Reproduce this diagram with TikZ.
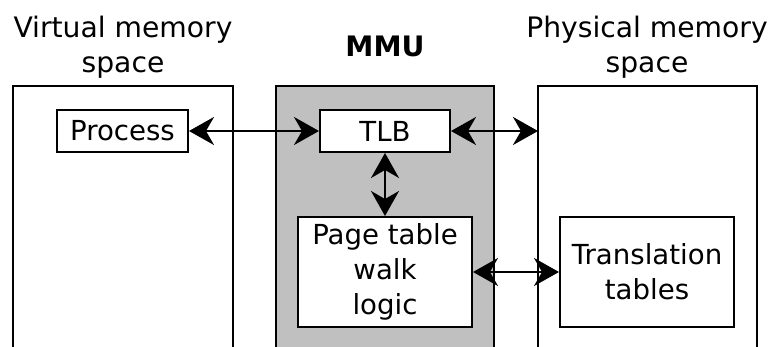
\documentclass[tikz,border=0pt]{standalone}
\usepackage{fontspec}
\setmainfont{DejaVu Sans}
\usetikzlibrary{arrows.meta}
\begin{document}
\begin{tikzpicture}[x=1pt,y=-1pt,
  lbl/.style={font=\fontsize{27.6}{35}\selectfont, align=center, inner sep=0pt},
  ttl/.style={font=\fontsize{28.2}{35}\selectfont, align=center, inner sep=0pt},
  box/.style={draw=black, line width=2pt, fill=white, lbl},
  conn/.style={line width=2pt, {Stealth[length=25pt,width=28pt,inset=8pt]}-{Stealth[length=25pt,width=28pt,inset=8pt]}},
  region/.style={line width=2pt}]
\useasboundingbox (0,0) rectangle (771,347);
\fill[white] (0,0) rectangle (771,347);
% regions
\fill[fill={rgb,255:red,192;green,192;blue,192}] (276,86) rectangle (494,350);
\draw[region] (13,350) -- (13,86) -- (233,86) -- (233,350);
\draw[region] (276,350) -- (276,86) -- (494,86) -- (494,350);
\draw[region] (538,350) -- (538,86) -- (757,86) -- (757,350);
\coordinate (physedge) at (538,131);
% headings
\node[ttl] (vtitle) at (123,47) {Virtual memory\\space};
\node[ttl, font=\fontsize{28.2}{35}\selectfont\bfseries] (mtitle) at (385,46) {MMU};
\node[ttl] (ptitle) at (647,47) {Physical memory\\space};
% boxes
\node[box, minimum width=131pt, minimum height=42pt] (proc) at (122.5,131) {Process};
\node[box, minimum width=130pt, minimum height=42pt] (tlb) at (385,131) {TLB};
\node[box, minimum width=174pt, minimum height=110pt] (ptw) at (385,272) {Page table\\walk\\logic};
\node[box, minimum width=174pt, minimum height=110pt] (tt) at (647,272) {Translation\\tables};
% connectors
\draw[conn] (proc) -- (tlb);
\draw[conn] (tlb) -- (physedge);
\draw[conn] (tlb) -- (ptw);
\draw[conn] (ptw) -- (tt);
\end{tikzpicture}
\end{document}
